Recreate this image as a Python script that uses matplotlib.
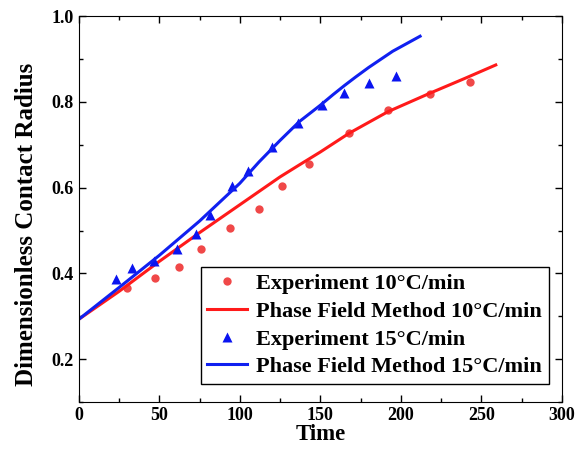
import matplotlib.pyplot as plt
from matplotlib.ticker import MultipleLocator

plt.rcParams['font.family'] = 'Liberation Serif'
plt.rcParams['font.weight'] = 'bold'

# experiment, 10 C/min
exp10_t = [30, 47.5, 62, 76, 94, 112, 126, 143, 168, 192, 218, 243]
exp10_r = [0.367, 0.390, 0.416, 0.456, 0.505, 0.550, 0.603, 0.656, 0.728, 0.781, 0.818, 0.847]
# experiment, 15 C/min
exp15_t = [23, 33, 47, 61, 72.5, 81.5, 95, 105, 120, 136, 151, 165, 180, 197]
exp15_r = [0.388, 0.413, 0.429, 0.457, 0.492, 0.537, 0.603, 0.638, 0.694, 0.750, 0.793, 0.820, 0.843, 0.860]
# phase field, 10 C/min
pf10_t = [0, 25, 50, 75, 100, 125, 137, 150, 168, 192, 218, 240, 259]
pf10_r = [0.293, 0.358, 0.428, 0.495, 0.560, 0.625, 0.653, 0.683, 0.727, 0.777, 0.820, 0.855, 0.886]
# phase field, 15 C/min
pf15_t = [0, 25, 50, 75, 100, 112, 125, 137, 150, 158, 165, 172, 180, 195, 212]
pf15_r = [0.293, 0.367, 0.442, 0.522, 0.610, 0.660, 0.710, 0.754, 0.792, 0.817, 0.838, 0.858, 0.880, 0.918, 0.953]

fig = plt.figure(figsize=(5.75, 4.59), dpi=100)
ax = fig.add_axes([0.137, 0.124, 0.840, 0.841])

ax.plot(exp10_t, exp10_r, 'o', color='#f04848', ms=6, mec='none', label='Experiment 10\u00b0C/min')
ax.plot(pf10_t, pf10_r, '-', color='#ff1a1a', lw=2.2, label='Phase Field Method 10\u00b0C/min')
ax.plot(exp15_t, exp15_r, '^', color='#0a14f0', ms=7, mec='none', label='Experiment 15\u00b0C/min')
ax.plot(pf15_t, pf15_r, '-', color='#1020f0', lw=2.2, label='Phase Field Method 15\u00b0C/min')

ax.set_xlim(0, 300)
ax.set_ylim(0.1, 1.0)
ax.xaxis.set_major_locator(MultipleLocator(50))
ax.xaxis.set_minor_locator(MultipleLocator(25))
ax.yaxis.set_major_locator(MultipleLocator(0.2))
ax.yaxis.set_minor_locator(MultipleLocator(0.1))
ax.set_yticks([0.2, 0.4, 0.6, 0.8, 1.0])
ax.tick_params(which='both', direction='in', top=True, right=True, labelsize=13)
ax.tick_params(which='major', length=5, width=1)
ax.tick_params(which='minor', length=3, width=1)

ax.set_xlabel('Time', fontsize=16.5, fontweight='bold', labelpad=0)
ax.set_ylabel('Dimensionless Contact Radius', fontsize=18, fontweight='bold')
ax.yaxis.set_label_coords(-0.085, 0.46)

leg = ax.legend(loc='lower right', fontsize=16, frameon=True, fancybox=False,
                edgecolor='black', framealpha=1, borderpad=0.3, labelspacing=0.32,
                handlelength=1.8, handletextpad=0.4, borderaxespad=0,
                bbox_to_anchor=(0.973, 0.047))
leg.get_frame().set_linewidth(1.0)

fig.savefig('out.png', dpi=100)
